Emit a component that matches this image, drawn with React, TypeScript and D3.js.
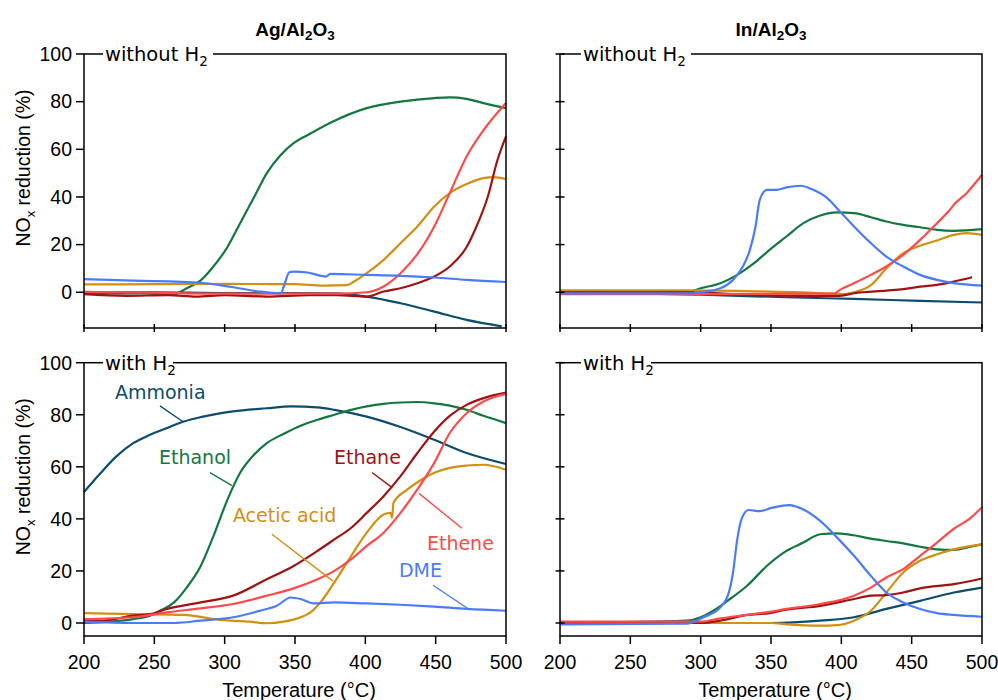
import React from "react";
import * as d3 from "d3";

type P = [number, number];

const seriesNames = ["Ammonia", "Ethanol", "Acetic acid", "Ethane", "Ethene", "DME"];
const seriesColors: Record<string, string> = {
  Ammonia: "#0c4d6e",
  Ethanol: "#13773f",
  Ethane: "#a01313",
  "Acetic acid": "#d38f10",
  Ethene: "#ff4a4a",
  DME: "#4a7bff",
};

const xTicks = [200, 250, 300, 350, 400, 450, 500];
const yTicks = [0, 20, 40, 60, 80, 100];

// ---------- Ag/Al2O3 without H2 ----------
const agNo_Ammonia: P[] = [[200, 0], [250, 0], [300, -0.3], [350, -0.3], [377, -0.5], [401, -1.8], [425, -4.6], [449, -8.1], [472, -11.6], [497, -14.3]];
const agNo_Ethanol: P[] = [[200, -0.5], [240, -0.5], [264, -0.8], [273, 1.7], [283, 5], [292, 10.8], [302, 19], [311, 29], [321, 40], [330, 50], [340, 57.7], [349, 62.6], [359, 66], [377, 71.7], [401, 77.3], [425, 80], [449, 81.5], [460, 81.8], [472, 81.2], [484, 79.4], [500, 77.3]];
const agNo_Ethane: P[] = [[200, -0.8], [230, -1.5], [260, -1.2], [280, -1.8], [300, -1.2], [330, -1.8], [360, -1.2], [380, -1.2], [401, -1.8], [413, 0.3], [425, 1.7], [437, 3.8], [449, 6.6], [460, 10.8], [472, 19], [479, 27.6], [487, 40], [494, 55.6], [500, 65.4]];
const agNo_AceticAcid: P[] = [[200, 3.3], [250, 3.4], [300, 3.5], [350, 3.4], [370, 2.8], [387, 3], [392, 4.5], [401, 8], [413, 13.6], [425, 20.6], [437, 27.6], [449, 36], [460, 41.6], [472, 45.4], [484, 47.9], [491, 48.3], [500, 47.5]];
const agNo_Ethene: P[] = [[200, 0.2], [250, -0.2], [300, -0.6], [350, -0.6], [380, -0.6], [401, 0], [413, 2.4], [425, 8], [437, 16], [449, 27.6], [460, 41.6], [472, 57], [484, 68], [500, 79.4]];
const agNo_DME: P[] = [[200, 5.5], [235, 4.9], [283, 4], [306, 2.1], [325, 0.3], [340, -0.4], [342, 2.4], [346, 8.4], [349, 8.7], [359, 8.3], [372, 6.6], [375, 7.7], [401, 7.3], [425, 6.9], [449, 6.2], [472, 5.2], [500, 4.3]];

// ---------- In/Al2O3 without H2 ----------
const inNo_Ammonia: P[] = [[200, 0], [300, -1], [361, -2.1], [409, -2.8], [456, -3.6], [500, -4.3]];
const inNo_Ethanol: P[] = [[200, 0], [290, 0], [300, 1.7], [314, 3.8], [326, 7.3], [338, 12.2], [349, 17.8], [361, 23.4], [373, 29], [385, 32.2], [397, 33.5], [409, 33.2], [421, 31.5], [432, 29.7], [444, 28.3], [456, 27.3], [468, 26.2], [480, 25.8], [500, 26.5]];
const inNo_Ethane: P[] = [[200, 0], [290, 0], [340, -1.2], [370, -1.5], [399, -1.5], [409, -0.4], [432, 0.7], [444, 1.3], [456, 2.4], [468, 3.1], [480, 4.5], [493, 6.3]];
const inNo_AceticAcid: P[] = [[200, 0.8], [290, 0.8], [340, 0.4], [385, -0.4], [399, -0.8], [409, 0], [421, 3], [432, 10], [444, 16.4], [456, 19.5], [468, 21.7], [480, 24.1], [489, 24.8], [500, 24.1]];
const inNo_Ethene: P[] = [[200, -0.8], [300, -0.8], [380, -0.6], [395, -0.5], [399, 1], [409, 3.8], [421, 7.3], [432, 10.8], [444, 15.7], [456, 22], [468, 29], [477, 34.5], [480, 36.7], [489, 41.6], [500, 49.3]];
const inNo_DME: P[] = [[200, -0.5], [290, -0.5], [300, 0], [314, 1.7], [323, 5.2], [330, 10.8], [335, 17.8], [339, 27.6], [342, 38.8], [347, 43], [354, 43], [361, 44], [371, 44.7], [380, 43], [390, 39.5], [399, 33.9], [409, 27.6], [421, 20.6], [432, 15], [444, 10.8], [456, 7.3], [468, 5.2], [480, 3.8], [500, 2.8]];

// ---------- Ag/Al2O3 with H2 ----------
const agH_Ammonia: P[] = [[200, 50.3], [212, 57.7], [223, 64], [235, 69.1], [247, 72.3], [259, 74.9], [271, 77.4], [283, 79.1], [306, 81.3], [330, 82.5], [347, 83.2], [366, 82.8], [378, 81.9], [401, 79.3], [425, 75.3], [449, 70.4], [472, 65.3], [500, 61.1]];
const agH_Ethanol: P[] = [[200, 0], [235, 1.5], [247, 2.8], [254, 4.7], [264, 7.9], [273, 13.6], [283, 21.9], [292, 33.4], [302, 47.4], [311, 57.7], [321, 64.7], [330, 69.1], [342, 72.7], [354, 75.8], [366, 78.1], [378, 80], [390, 81.9], [401, 83.2], [413, 84.2], [425, 84.7], [437, 84.9], [449, 84.4], [460, 83.5], [472, 81.9], [484, 79.6], [500, 76.8]];
const agH_Ethane: P[] = [[200, 0.9], [212, 0.9], [235, 2.8], [247, 3.4], [259, 5.4], [283, 7.9], [306, 10.5], [330, 16.8], [349, 21.9], [366, 27.7], [378, 32.1], [390, 36.6], [401, 42.3], [413, 48.7], [425, 56.4], [437, 65.3], [449, 73.6], [460, 79.6], [472, 83.8], [484, 86.4], [500, 88.5]];
const agH_AceticAcid: P[] = [[200, 3.8], [235, 3.4], [271, 3.1], [295, 1.3], [318, 0.5], [330, -0.1], [342, 0.5], [354, 2.2], [361, 4.1], [368, 7.9], [378, 15.6], [390, 25.8], [401, 34.7], [413, 41.7], [418, 42.3], [419, 40.4], [420, 46.2], [430, 51.3], [442, 55.7], [449, 57.7], [460, 59.6], [472, 60.5], [484, 60.8], [500, 58.9]];
const agH_Ethene: P[] = [[200, 1.5], [235, 2.2], [259, 4.1], [283, 5.6], [306, 7.3], [330, 10.5], [349, 13.3], [366, 16.8], [378, 20], [390, 24.5], [401, 29.6], [413, 34.7], [425, 42.3], [437, 51.3], [449, 61.5], [460, 73], [472, 80.6], [484, 85.1], [500, 88]];
const agH_DME: P[] = [[200, 0.5], [235, 0], [264, 0], [283, 0.9], [306, 2.2], [325, 4.7], [337, 6.6], [347, 9.8], [354, 9.2], [363, 7.5], [378, 7.9], [401, 7.5], [425, 7], [449, 6.3], [472, 5.4], [500, 4.7]];

// ---------- In/Al2O3 with H2 ----------
const inH_Ammonia: P[] = [[200, 0], [350, 0], [385, 0.9], [409, 2.2], [432, 5.4], [456, 8.5], [480, 11.7], [500, 13.6]];
const inH_Ethanol: P[] = [[200, 0], [290, 0.9], [300, 2.2], [309, 4.7], [319, 8.5], [333, 14.3], [347, 21.9], [361, 27.7], [373, 30.9], [385, 34.1], [397, 34.4], [409, 33.7], [421, 32.4], [432, 31.5], [444, 30.6], [456, 29.3], [468, 28.3], [480, 28.1], [492, 29.3], [500, 30.2]];
const inH_Ethane: P[] = [[200, 0], [300, 0], [314, 0.9], [333, 3.1], [349, 3.8], [361, 5.1], [385, 6.6], [409, 9.2], [421, 10.5], [432, 10.7], [444, 11.7], [456, 13.3], [480, 14.9], [500, 17.1]];
const inH_AceticAcid: P[] = [[200, 0], [350, 0], [361, -0.5], [385, -1], [397, -0.8], [409, 0.9], [421, 4.7], [432, 11.7], [444, 19.4], [456, 23.9], [468, 26.4], [480, 28.3], [500, 30.2]];
const inH_Ethene: P[] = [[200, 0.5], [300, 0.5], [314, 1.8], [333, 3.1], [349, 4.3], [361, 5.4], [385, 7.3], [409, 10.5], [421, 13.6], [432, 17.5], [444, 20.7], [456, 25.8], [468, 30.9], [480, 36.2], [492, 40.4], [500, 44.5]];
const inH_DME: P[] = [[200, -0.5], [290, -0.3], [302, 2.2], [314, 6], [320, 11.7], [323, 19.4], [326, 32.1], [329, 39.8], [334, 43.4], [342, 43], [351, 44.3], [363, 45.3], [373, 43.6], [385, 39.2], [397, 32.8], [409, 25.8], [421, 18.1], [432, 11.7], [444, 7.9], [456, 5.4], [468, 3.8], [480, 3.1], [500, 2.4]];

// series label annotations (data coords): [text x, text baseline y, leader x1, y1, x2, y2]
const labelNames = ["Ammonia", "Ethanol", "Ethane", "Acetic acid", "Ethene", "DME"];
const labelAnchors: number[][] = [
  [222, 86.1, 254, 83.4, 270.4, 77.3],
  [253.3, 61.2, 289.6, 57.8, 305.2, 52.8],
  [377.7, 61.2, 404.7, 57.8, 418.2, 52.4],
  [305.9, 38.7, 333.6, 34.1, 377, 16.1],
  [443.8, 27.9, 468.7, 36.4, 438.1, 49.8],
  [423.9, 17.6, 448.1, 14.5, 474.4, 5],
];

type Panel = {
  x0: number; x1: number; y0: number; y1: number; ymin: number;
  data: Record<string, P[]>;
  left: boolean; bottom: boolean; tag: string; title?: string; labels?: boolean;
};

const panels: Panel[] = [
  { x0: 84, x1: 506, y0: 54, y1: 328, ymin: -15, left: true, bottom: false, tag: "without", title: "Ag",
    data: { Ammonia: agNo_Ammonia, Ethanol: agNo_Ethanol, Ethane: agNo_Ethane, "Acetic acid": agNo_AceticAcid, Ethene: agNo_Ethene, DME: agNo_DME } },
  { x0: 560, x1: 982, y0: 54, y1: 328, ymin: -15, left: false, bottom: false, tag: "without", title: "In",
    data: { Ammonia: inNo_Ammonia, Ethanol: inNo_Ethanol, Ethane: inNo_Ethane, "Acetic acid": inNo_AceticAcid, Ethene: inNo_Ethene, DME: inNo_DME } },
  { x0: 84, x1: 506, y0: 362.7, y1: 636, ymin: -5, left: true, bottom: true, tag: "with", labels: true,
    data: { Ammonia: agH_Ammonia, Ethanol: agH_Ethanol, Ethane: agH_Ethane, "Acetic acid": agH_AceticAcid, Ethene: agH_Ethene, DME: agH_DME } },
  { x0: 560, x1: 982, y0: 362.7, y1: 636, ymin: -5, left: false, bottom: true, tag: "with",
    data: { Ammonia: inH_Ammonia, Ethanol: inH_Ethanol, Ethane: inH_Ethane, "Acetic acid": inH_AceticAcid, Ethene: inH_Ethene, DME: inH_DME } },
];

const ARIAL = "'Liberation Sans', Arial, Helvetica, sans-serif";
const VERD = "'DejaVu Sans', Verdana, sans-serif";

function PanelView({ p }: { p: Panel }) {
  const x = d3.scaleLinear().domain([200, 500]).range([p.x0, p.x1]);
  const y = d3.scaleLinear().domain([p.ymin, 100]).range([p.y1, p.y0]);
  const line = d3.line<P>().x((d) => x(d[0])).y((d) => y(d[1])).curve(d3.curveMonotoneX);
  const tagText = p.tag === "without" ? "without H" : "with H";
  const tagW = p.tag === "without" ? 110 : 70;
  const tagX = p.x0 + (p.left ? 21 : 23);
  const midX = (p.x0 + p.x1) / 2;
  return (
    <g>
      {seriesNames.map((s) => (
        <path key={s} d={line(p.data[s]) || ""} fill="none" stroke={seriesColors[s]} strokeWidth={2.2} strokeLinejoin="round" />
      ))}
      {/* frame */}
      <rect x={p.x0} y={p.y0} width={p.x1 - p.x0} height={p.y1 - p.y0} fill="none" stroke="#000" strokeWidth={1.5} />
      {/* y ticks */}
      {yTicks.map((t) => (
        <g key={"y" + t}>
          <line x1={p.left ? p.x0 - 8 : p.x0 - 4.5} x2={p.left ? p.x0 : p.x0 + 4.5} y1={y(t)} y2={y(t)} stroke="#000" strokeWidth={1.5} />
          {p.left && (
            <text x={p.x0 - 12} y={y(t)} dy="0.35em" textAnchor="end" fontFamily={ARIAL} fontSize={19.5} fill="#000">{t}</text>
          )}
        </g>
      ))}
      {/* x ticks */}
      {xTicks.map((t) => (
        <g key={"x" + t}>
          <line x1={x(t)} x2={x(t)} y1={p.bottom ? p.y1 : p.y1 - 4} y2={p.bottom ? p.y1 + 8 : p.y1 + 4} stroke="#000" strokeWidth={1.5} />
          {p.bottom && (
            <text x={x(t)} y={p.y1 + 26} dy="0.35em" textAnchor="middle" fontFamily={ARIAL} fontSize={19.5} fill="#000">{t}</text>
          )}
        </g>
      ))}
      {/* condition tag */}
      <rect x={tagX - 2} y={p.y0 - 4} width={tagW} height={8} fill="#fff" />
      <text x={tagX} y={p.y0 + 7} fontFamily={VERD} fontSize={19.5} fill="#000">
        {tagText}
        <tspan fontSize={13.5} dy={5}>2</tspan>
      </text>
      {p.left && (
        <text transform={`translate(30,${p.y0 + 114}) rotate(-90)`} textAnchor="middle" fontFamily={ARIAL} fontSize={19.5} fill="#000">
          NO<tspan fontSize={13} dy={5}>x</tspan><tspan dy={-5}> reduction (%)</tspan>
        </text>
      )}
      {p.bottom && (
        <text x={midX + 4} y={697} textAnchor="middle" fontFamily={ARIAL} fontSize={20} fill="#000">Temperature (°C)</text>
      )}
      {p.title && (
        <text x={midX} y={36} textAnchor="middle" fontFamily={ARIAL} fontWeight="bold" fontSize={19} fill="#000">
          {p.title}/Al<tspan fontSize={13.5} dy={4}>2</tspan><tspan dy={-4}>O</tspan><tspan fontSize={13.5} dy={4}>3</tspan>
        </text>
      )}
      {p.labels && labelNames.map((n, i) => {
        const a = labelAnchors[i];
        return (
          <g key={"l" + n}>
            <text x={x(a[0])} y={y(a[1])} fontFamily={VERD} fontSize={19} fill={seriesColors[n]}>{n}</text>
            <line x1={x(a[2])} y1={y(a[3])} x2={x(a[4])} y2={y(a[5])} stroke={seriesColors[n]} strokeWidth={1.4} />
          </g>
        );
      })}
    </g>
  );
}

export default function App() {
  return (
    <svg width={998} height={700} style={{ position: "absolute", left: 0, top: 0, background: "#fff" }}>
      <rect width={998} height={700} fill="#fff" />
      {panels.map((p, i) => (
        <PanelView key={i} p={p} />
      ))}
    </svg>
  );
}
